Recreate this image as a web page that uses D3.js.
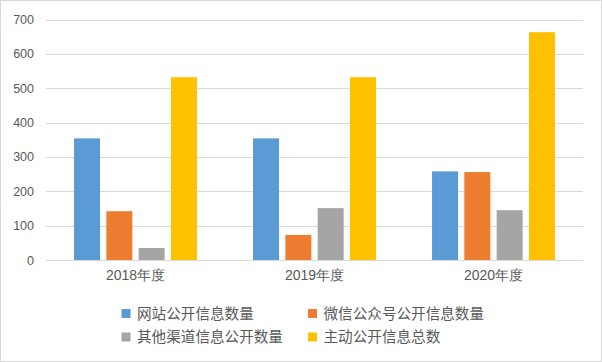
<!DOCTYPE html>
<html>
<head>
<meta charset="utf-8">
<script src="https://cdn.jsdelivr.net/npm/d3@7"></script>
<style>
  body { margin: 0; background: #fff; }
  svg { display: block; font-family: "Noto Sans CJK SC", "Noto Sans", sans-serif; }
</style>
</head>
<body>
<svg id="chart" width="602" height="362"></svg>
<script>
/* Daten */
const years   = ["2018年度", "2019年度", "2020年度"];
const series  = ["网站公开信息数量", "微信公众号公开信息数量", "其他渠道信息公开数量", "主动公开信息总数"];
const website = [354, 354, 258];
const wechat  = [142, 73, 256];
const other   = [35, 151, 145];
const total   = [532, 532, 663];
const yTicks  = [0, 100, 200, 300, 400, 500, 600, 700];
const colors  = ["#5B9BD5", "#ED7D31", "#A5A5A5", "#FFC000"];

const values = [website, wechat, other, total];

const svg = d3.select("#chart");
const plotLeft = 46, plotRight = 583, plotTop = 19.5, plotBottom = 260;

// Rahmen
svg.append("rect")
  .attr("x", 0.5).attr("y", 0.5)
  .attr("width", 601).attr("height", 361)
  .attr("fill", "#fff")
  .attr("stroke", "#D9D9D9");

const x0 = d3.scaleBand().domain(years).range([plotLeft, plotRight]).paddingInner(0).paddingOuter(0);
const x1 = d3.scaleBand().domain(d3.range(series.length)).range([0, x0.bandwidth()])
  .paddingInner(0.195).paddingOuter(0.868);
const y = d3.scaleLinear().domain([0, 700]).range([plotBottom, plotTop]);

// Gitterlinien
svg.append("g")
  .selectAll("line")
  .data(yTicks)
  .enter().append("line")
    .attr("x1", plotLeft).attr("x2", plotRight)
    .attr("y1", d => Math.round(y(d)) + 0.5)
    .attr("y2", d => Math.round(y(d)) + 0.5)
    .attr("stroke", "#D9D9D9")
    .attr("stroke-width", 1);

// Y-Achse (nur Beschriftung)
const yAxis = svg.append("g")
  .attr("transform", "translate(" + (plotLeft - 12) + ",0)")
  .call(d3.axisLeft(y).tickValues(yTicks).tickSize(0).tickPadding(0));
yAxis.select(".domain").remove();
yAxis.selectAll("text")
  .attr("fill", "#595959")
  .style("font-size", "12.5px");

// X-Achse
const xAxis = svg.append("g")
  .attr("transform", "translate(0," + plotBottom + ")")
  .call(d3.axisBottom(x0).tickSize(0).tickPadding(10));
xAxis.select(".domain").remove();
xAxis.selectAll("text")
  .attr("fill", "#595959")
  .style("font-size", "14px");

// Balken
const groups = svg.append("g")
  .selectAll("g")
  .data(years)
  .enter().append("g")
    .attr("transform", d => "translate(" + x0(d) + ",0)");

groups.selectAll("rect")
  .data((d, i) => values.map((v, s) => ({ s: s, v: v[i] })))
  .enter().append("rect")
    .attr("x", d => x1(d.s))
    .attr("y", d => y(d.v))
    .attr("width", x1.bandwidth())
    .attr("height", d => y(0) - y(d.v))
    .attr("fill", d => colors[d.s]);

// Legende
const legend = svg.append("g");
const legPos = [[121.5, 313.5], [308, 313.5], [121.5, 337], [308, 337]];
const item = legend.selectAll("g")
  .data(series)
  .enter().append("g")
    .attr("transform", (d, i) => "translate(" + legPos[i][0] + "," + legPos[i][1] + ")");
item.append("rect")
  .attr("x", 0).attr("y", -4.5)
  .attr("width", 9).attr("height", 9)
  .attr("fill", (d, i) => colors[i]);
item.append("text")
  .attr("x", 15.5).attr("y", 0)
  .attr("dy", "0.35em")
  .attr("fill", "#595959")
  .style("font-size", "14.6px")
  .text(d => d);
</script>
</body>
</html>
